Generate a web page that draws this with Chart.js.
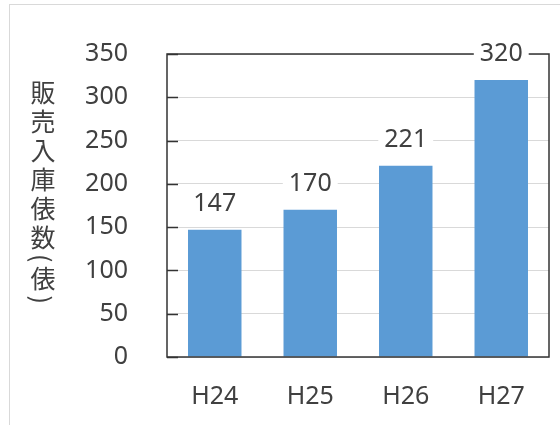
<!DOCTYPE html>
<html>
<head>
<meta charset="utf-8">
<script src="https://cdn.jsdelivr.net/npm/chart.js@4/dist/chart.umd.min.js"></script>
<style>
  html, body { margin: 0; padding: 0; background: #fff; }
  #wrap { position: relative; width: 560px; height: 425px; }
  #ytitle {
    position: absolute; left: 30px; top: 80px;
    writing-mode: vertical-rl; text-orientation: mixed;
    font-family: "Noto Sans CJK JP", sans-serif; font-size: 25px;
    line-height: 25px; letter-spacing: 4px; color: #404040;
  }
</style>
</head>
<body>
<div id="wrap">
  <canvas id="c" width="560" height="425"></canvas>
  <div id="ytitle">販売入庫俵数(俵)</div>
</div>
<script>
// 年度別の販売入庫俵数
const years = ['H24', 'H25', 'H26', 'H27'];
const bales = [147, 170, 221, 320];
const yTicks = [0, 50, 100, 150, 200, 250, 300, 350];

const TEXT = '#404040';
const FRAME = '#333333';
const FONT = { family: '"Noto Sans", sans-serif', size: 25 };

// 外枠・プロット枠・内向き目盛・値ラベル
const decor = {
  id: 'decor',
  beforeDraw(chart) {
    const ctx = chart.ctx;
    ctx.save();
    ctx.strokeStyle = '#d9d9d9';
    ctx.lineWidth = 1;
    ctx.strokeRect(9.5, 4.5, 600, 440);
    ctx.restore();
  },
  afterDatasetsDraw(chart) {
    const ctx = chart.ctx;
    const a = chart.chartArea;
    const y = chart.scales.y;
    ctx.save();
    ctx.strokeStyle = FRAME;
    ctx.lineWidth = 1.5;
    ctx.strokeRect(a.left, a.top, a.right - a.left, a.bottom - a.top);
    ctx.beginPath();
    yTicks.forEach(v => {
      const py = Math.round(y.getPixelForValue(v)) + 0.5;
      ctx.moveTo(a.left, py);
      ctx.lineTo(a.left + 11, py);
    });
    ctx.stroke();

    const meta = chart.getDatasetMeta(0);
    ctx.font = FONT.size + 'px ' + FONT.family;
    ctx.textAlign = 'center';
    ctx.textBaseline = 'alphabetic';
    meta.data.forEach((bar, i) => {
      const txt = String(bales[i]);
      const w = ctx.measureText(txt).width;
      const base = bar.y - 19;
      ctx.fillStyle = '#ffffff';
      ctx.fillRect(bar.x - w / 2 - 6, base - 21, w + 12, 25);
      ctx.fillStyle = TEXT;
      ctx.fillText(txt, bar.x, base);
    });
    ctx.restore();
  }
};

new Chart(document.getElementById('c'), {
  type: 'bar',
  data: {
    labels: years,
    datasets: [{
      data: bales,
      backgroundColor: '#5b9bd5',
      barPercentage: 0.56,
      categoryPercentage: 1
    }]
  },
  options: {
    responsive: false,
    animation: false,
    layout: { padding: { left: 10, top: 53, right: 11, bottom: 0 } },
    plugins: { legend: { display: false }, tooltip: { enabled: false } },
    scales: {
      y: {
        min: 0, max: 350,
        afterBuildTicks(scale) { scale.ticks = yTicks.map(v => ({ value: v })); },
        afterFit(scale) { scale.width = 157; },
        ticks: { font: FONT, color: TEXT, padding: 39 },
        grid: { color: '#d9d9d9', drawTicks: false },
        border: { display: false }
      },
      x: {
        afterFit(scale) { scale.height = 68; },
        ticks: { font: FONT, color: TEXT, padding: 25 },
        grid: { display: false, drawTicks: false },
        border: { display: false }
      }
    }
  },
  plugins: [decor]
});
</script>
</body>
</html>
